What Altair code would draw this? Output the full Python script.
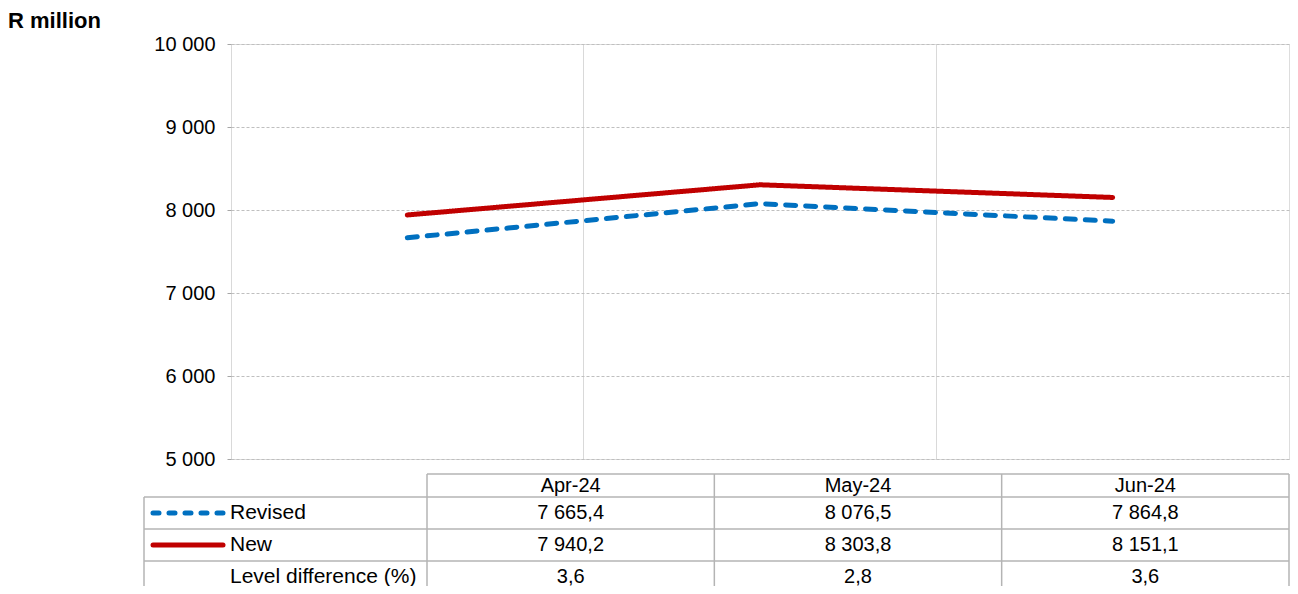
import altair as alt
import pandas as pd

# ---------------- data ----------------
months = ["Apr-24", "May-24", "Jun-24"]
revised = [7665.4, 8076.5, 7864.8]
new = [7940.2, 8303.8, 8151.1]
level_diff = [3.6, 2.8, 3.6]
series_names = ["Revised", "New"]
row_labels = ["Revised", "New", "Level difference (%)"]
y_ticks = [5000, 6000, 7000, 8000, 9000, 10000]
y_title = "R million"

# ---------------- layout / style ----------------
FONT = "Liberation Sans"
PW, PH = 1058, 415           # plot area
PAD = {"left": 223, "top": 36, "right": 1, "bottom": 127}
BLUE, RED = "#0070C0", "#C00000"
GRID_H = "#bfbfbf"
GRID_V = "#d9d9d9"
TBL = "#b4b4b4"
TBL_TOP = 430                 # header top (relative to plot origin)
ROW_RANGE = [453, 549]        # body rows
COL_RANGE = [196, PW]         # value columns
LBL_LEFT = -87
TBL_BOTTOM = 560

line_df = pd.DataFrame({
    "month": months * 2,
    "series": [series_names[0]] * 3 + [series_names[1]] * 3,
    "value": revised + new,
})

tbl_df = pd.DataFrame({
    "month": months * 3,
    "row": [row_labels[0]] * 3 + [row_labels[1]] * 3 + [row_labels[2]] * 3,
    "value": revised + new + level_diff,
})
hdr_df = pd.DataFrame({"month": months})
rowlab_df = pd.DataFrame({"row": row_labels})
leg_df = pd.DataFrame({"row": series_names})
title_df = pd.DataFrame({"t": [y_title]})

tx = alt.Scale(type="band", domain=months, range=COL_RANGE, paddingInner=0, paddingOuter=0)
ty = alt.Scale(type="band", domain=row_labels, range=ROW_RANGE, paddingInner=0, paddingOuter=0)

# ---------------- plot ----------------
lines = alt.Chart(line_df).mark_line(strokeWidth=5, strokeCap="round", strokeJoin="round").encode(
    x=alt.X("month:N", sort=months,
            scale=alt.Scale(type="band", domain=months, paddingInner=0, paddingOuter=0),
            axis=alt.Axis(grid=True, labels=False, ticks=False, domain=False, title=None,
                          bandPosition=0, gridColor=GRID_V, gridWidth=1)),
    y=alt.Y("value:Q",
            scale=alt.Scale(domain=[5000, 10000], nice=False, zero=False),
            axis=alt.Axis(values=y_ticks, title=None, domain=False,
                          labelExpr="replace(format(datum.value, ','), ',', ' ')",
                          labelFont=FONT, labelFontSize=20, labelColor="#000000",
                          labelPadding=12, tickSize=4, tickColor="#a6a6a6",
                          gridColor=GRID_H, gridDash=[3, 2], gridWidth=1)),
    color=alt.Color("series:N", scale=alt.Scale(domain=series_names, range=[BLUE, RED]), legend=None),
    strokeDash=alt.StrokeDash("series:N",
                              scale=alt.Scale(domain=series_names, range=[[10, 10], [1, 0]]),
                              legend=None),
    detail="series:N",
)

title = alt.Chart(title_df).mark_text(
    align="left", baseline="alphabetic", font=FONT, fontSize=22, fontWeight="bold", color="#000000"
).encode(x=alt.value(-PAD["left"]), y=alt.value(-16), text="t:N")

# ---------------- table ----------------
hdr_text = alt.Chart(hdr_df).mark_text(font=FONT, fontSize=20, color="#000000", baseline="middle").encode(
    x=alt.X("month:N", scale=tx, axis=None),
    y=alt.value(TBL_TOP + 12),
    text="month:N",
)

cell_text = alt.Chart(tbl_df).transform_calculate(
    label="replace(replace(format(datum.value, ',.1f'), ',', ' '), '.', ',')"
).mark_text(font=FONT, fontSize=20, color="#000000", baseline="middle").encode(
    x=alt.X("month:N", scale=tx, axis=None),
    y=alt.Y("row:N", scale=ty, axis=None),
    text="label:N",
)

row_text = alt.Chart(rowlab_df).mark_text(
    font=FONT, fontSize=21, color="#000000", align="left", baseline="middle"
).encode(
    x=alt.value(-1),
    y=alt.Y("row:N", scale=ty, axis=None),
    text="row:N",
)

leg_rev = alt.Chart(leg_df).transform_filter(alt.datum.row == series_names[0]).mark_rule(
    color=BLUE, strokeWidth=5, strokeDash=[6, 10], strokeCap="round"
).encode(x=alt.value(-78), x2=alt.value(-8), y=alt.Y("row:N", scale=ty, axis=None))

leg_new = alt.Chart(leg_df).transform_filter(alt.datum.row == series_names[1]).mark_rule(
    color=RED, strokeWidth=5, strokeCap="round"
).encode(x=alt.value(-78), x2=alt.value(-8), y=alt.Y("row:N", scale=ty, axis=None))

# table grid
h_rules = alt.Chart(rowlab_df).mark_rule(color=TBL, strokeWidth=1.5).encode(
    y=alt.Y("row:N", scale=ty, axis=None, bandPosition=0),
    x=alt.value(LBL_LEFT), x2=alt.value(PW),
)
h_top = alt.Chart(hdr_df.head(1)).mark_rule(color=TBL, strokeWidth=1.5).encode(
    y=alt.value(TBL_TOP), x=alt.value(COL_RANGE[0]), x2=alt.value(PW),
)
v_rules = alt.Chart(hdr_df).mark_rule(color=TBL, strokeWidth=1.5).encode(
    x=alt.X("month:N", scale=tx, axis=None, bandPosition=0),
    y=alt.value(TBL_TOP), y2=alt.value(TBL_BOTTOM),
)
v_right = alt.Chart(hdr_df.head(1)).mark_rule(color=TBL, strokeWidth=1.5).encode(
    x=alt.value(PW), y=alt.value(TBL_TOP), y2=alt.value(TBL_BOTTOM),
)
v_left = alt.Chart(hdr_df.head(1)).mark_rule(color=TBL, strokeWidth=1.5).encode(
    x=alt.value(LBL_LEFT), y=alt.value(ROW_RANGE[0]), y2=alt.value(TBL_BOTTOM),
)

chart = alt.layer(
    lines, title, h_rules, h_top, v_rules, v_right, v_left,
    hdr_text, cell_text, row_text, leg_rev, leg_new,
).resolve_scale(
    x="independent", y="independent", color="independent", strokeDash="independent"
).properties(
    width=PW, height=PH,
    padding=PAD,
    autosize=alt.AutoSizeParams(type="none"),
).configure_view(
    stroke="#a6a6a6", strokeWidth=1.5
).configure(
    font=FONT, background="white"
)

chart.save("out.html", embed_options={"renderer": "svg", "actions": False})
